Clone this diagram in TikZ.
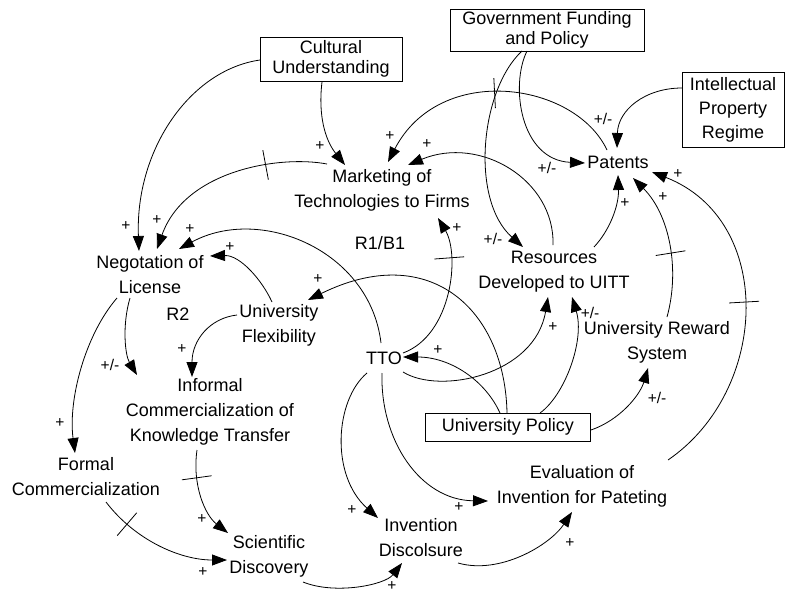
\documentclass[tikz,border=0pt]{standalone}
\usepackage{fontspec}
\setmainfont{Liberation Sans}
\usetikzlibrary{arrows.meta,decorations.markings}
\begin{document}
\begin{tikzpicture}[x=1pt,y=-1pt,
  txt/.style={font=\fontsize{18}{25}\selectfont, align=center, inner sep=0pt},
  boxed/.style={font=\fontsize{18}{20}\selectfont, align=center, inner sep=0pt, draw, line width=0.8pt},
  sgn/.style={font=\fontsize{15.5}{15.5}\selectfont, inner sep=0pt},
  link/.style={line width=0.8pt, -{Triangle[length=15pt,width=11pt]}},
  delaymark/.style={postaction={decorate, decoration={markings, mark=at position #1 with {\draw[line width=0.8pt, arrows=-] (0pt,-15pt) -- (0pt,15pt);}}}}
]
\useasboundingbox[fill=white] (0,0) rectangle (786,594);

% nodes
\node[boxed, minimum width=142pt, minimum height=44pt] (cult) at (331,59) {Cultural\\Understanding};
\node[boxed, minimum width=194pt, minimum height=42pt] (gov) at (547,30) {Government Funding\\and Policy};
\node[boxed, font=\fontsize{18}{24}\selectfont, minimum width=102pt, minimum height=75pt] (ipr) at (733,110) {Intellectual\\Property\\Regime};
\node[txt] (pat) at (618,162) {Patents};
\node[txt] (mkt) at (382,190) {Marketing of\\Technologies to Firms};
\node[txt] (neg) at (150,275) {Negotation of\\License};
\node[txt] (res) at (554,272) {Resources\\Developed to UITT};
\node[txt] (flex) at (279,325) {University\\Flexibility};
\node[txt] (tto) at (384,358) {TTO};
\node[txt] (rew) at (657,342) {University Reward\\System};
\node[txt] (inf) at (210,412) {Informal\\Commercialization of\\Knowledge Transfer};
\node[boxed, minimum width=165pt, minimum height=28pt] (pol) at (508,427) {University Policy};
\node[txt] (formal) at (86,477) {Formal\\Commercialization};
\node[txt] (eval) at (582,486) {Evaluation of\\Invention for Pateting};
\node[txt] (sci) at (269,556) {Scientific\\Discovery};
\node[txt] (inv) at (421,538) {Invention\\Discolsure};
\node[txt] (r2) at (178,314) {R2};
\node[txt] (r1) at (380,243) {R1/B1};

% connectors
\draw[link] ([shift={(-71,1)}]cult.center) .. controls (190,70) and (135,150) .. ([shift={(-11,-24)}]neg.center);
\draw[link] ([shift={(-9,23)}]cult.center) .. controls (318,115) and (325,140) .. ([shift={(-37,-25)}]mkt.center);
\draw[link, delaymark=0.3] ([shift={(-55,-26)}]mkt.center) .. controls (280,155) and (185,170) .. ([shift={(7,-26)}]neg.center);
\draw[link, delaymark=0.5] ([shift={(-11,-12)}]pat.center) .. controls (575,82) and (440,62) .. ([shift={(6,-28)}]mkt.center);
\draw[link] ([shift={(-1,-27)}]res.center) .. controls (555,180) and (480,135) .. ([shift={(26,-25)}]mkt.center);
\draw[link] ([shift={(-20,21)}]gov.center) .. controls (510,85) and (520,160) .. ([shift={(-33,1)}]pat.center);
\draw[link] ([shift={(-25,21)}]gov.center) .. controls (480,90) and (470,200) .. ([shift={(-31,-25)}]res.center);
\draw[link] ([shift={(-51,-22)}]ipr.center) .. controls (645,88) and (618,110) .. ([shift={(-1,-14)}]pat.center);
\draw[link] ([shift={(40,-25)}]res.center) .. controls (610,230) and (619,205) .. ([shift={(0,13)}]pat.center);
\draw[link, delaymark=0.43] ([shift={(10,-25)}]rew.center) .. controls (680,270) and (670,215) .. ([shift={(15,16)}]pat.center);
\draw[link, delaymark=0.52] ([shift={(86,-26)}]eval.center) .. controls (770,390) and (775,220) .. ([shift={(34,10)}]pat.center);
\draw[link, delaymark=0.73] ([shift={(19,-5)}]tto.center) .. controls (452,335) and (460,255) .. ([shift={(56,28)}]mkt.center);
\draw[link] ([shift={(-3,-15)}]tto.center) .. controls (370,250) and (260,205) .. ([shift={(29,-26)}]neg.center);
\draw[link] ([shift={(-7,-23)}]flex.center) .. controls (262,280) and (240,255) .. ([shift={(60,-19)}]neg.center);
\draw[link] ([shift={(-1,-14)}]pol.center) .. controls (505,310) and (430,240) .. ([shift={(29,-25)}]flex.center);
\draw[link] ([shift={(-8,-14)}]pol.center) .. controls (485,380) and (450,357) .. ([shift={(19,-1)}]tto.center);
\draw[link] ([shift={(19,14)}]tto.center) .. controls (440,395) and (535,375) .. ([shift={(-6,25)}]res.center);
\draw[link] ([shift={(32,-14)}]pol.center) .. controls (565,395) and (585,340) .. ([shift={(18,25)}]res.center);
\draw[link] ([shift={(83,3)}]pol.center) .. controls (620,420) and (640,395) .. ([shift={(-9,26)}]rew.center);
\draw[link] ([shift={(-17,15)}]tto.center) .. controls (335,400) and (330,475) .. ([shift={(-43,-20)}]inv.center);
\draw[link] ([shift={(-2,15)}]tto.center) .. controls (380,440) and (420,500) .. ([shift={(-94,15)}]eval.center);
\draw[link] ([shift={(37,25)}]inv.center) .. controls (500,575) and (550,545) .. ([shift={(-10,26)}]eval.center);
\draw[link] ([shift={(34,26)}]sci.center) .. controls (335,595) and (385,585) .. ([shift={(-19,25)}]inv.center);
\draw[link, delaymark=0.22] ([shift={(20,25)}]formal.center) .. controls (135,540) and (180,560) .. ([shift={(-42,4)}]sci.center);
\draw[link, delaymark=0.3] ([shift={(-13,38)}]inf.center) .. controls (192,485) and (205,515) .. ([shift={(-41,-23)}]sci.center);
\draw[link] ([shift={(-33,23)}]neg.center) .. controls (85,335) and (68,400) .. ([shift={(-11,-24)}]formal.center);
\draw[link] ([shift={(-20,23)}]neg.center) .. controls (122,325) and (125,355) .. ([shift={(-73,-37)}]inf.center);
\draw[link] ([shift={(-42,-10)}]flex.center) .. controls (210,318) and (192,340) .. ([shift={(-18,-35)}]inf.center);

% polarity signs
\node[sgn] (s1) at (126,226) {+};
\node[sgn] (s2) at (157,220) {+};
\node[sgn] (s3) at (190,229) {+};
\node[sgn] (s4) at (230,247) {+};
\node[sgn] (s5) at (320,146) {+};
\node[sgn] (s6) at (390,136) {+};
\node[sgn] (s7) at (427,144) {+};
\node[sgn] (s8) at (603,119) {+/-};
\node[sgn] (s9) at (547,168) {+/-};
\node[sgn] (s10) at (493,239) {+/-};
\node[sgn] (s11) at (625,203) {+};
\node[sgn] (s12) at (663,197) {+};
\node[sgn] (s13) at (678,174) {+};
\node[sgn] (s14) at (457,228) {+};
\node[sgn] (s15) at (318,279) {+};
\node[sgn] (s16) at (438,350) {+};
\node[sgn] (s17) at (553,327) {+};
\node[sgn] (s18) at (590,313) {+/-};
\node[sgn] (s19) at (657,398) {+/-};
\node[sgn] (s20) at (352,510) {+};
\node[sgn] (s21) at (459,507) {+};
\node[sgn] (s22) at (570,543) {+};
\node[sgn] (s23) at (392,586) {+};
\node[sgn] (s24) at (203,572) {+};
\node[sgn] (s25) at (202,519) {+};
\node[sgn] (s26) at (60,423) {+};
\node[sgn] (s27) at (110,365) {+/-};
\node[sgn] (s28) at (182,349) {+};
\end{tikzpicture}
\end{document}
